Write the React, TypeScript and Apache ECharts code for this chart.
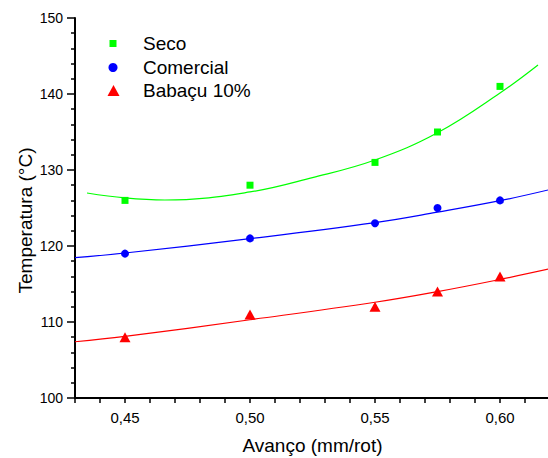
import React, { useEffect, useRef } from 'react';
import * as echarts from 'echarts';

// Measured points
const feedRates = [0.45, 0.5, 0.55, 0.575, 0.6];
const secoValues = [126, 128, 131, 135, 141];
const comercialValues = [119, 121, 123, 125, 126];
const babacuValues = [108, 111, 112, 114, 116];

// Fitted curves
const secoFitX = [0.4348, 0.45, 0.466, 0.5, 0.525, 0.55, 0.575, 0.6, 0.6152];
const secoFitY = [126.97, 126.32, 126.05, 127.11, 129.0, 131.32, 134.9, 140.13, 143.82];
const comercialFitX = [0.43, 0.45, 0.5, 0.55, 0.575, 0.6, 0.62];
const comercialFitY = [118.46, 119.08, 120.96, 123.07, 124.45, 125.96, 127.43];
const babacuFitX = [0.43, 0.45, 0.5, 0.55, 0.575, 0.6, 0.62];
const babacuFitY = [107.4, 108.1, 110.3, 112.6, 114.0, 115.6, 117.0];

// Axis labels shown on the x axis (ticks every 0.01)
const xLabelHundredths = [45, 50, 55, 60];

const FONT = '"Liberation Sans", Arial, Helvetica, sans-serif';

const pair = (xs: number[], ys: number[]) => xs.map((x, i) => [x, ys[i]]);

export default function App() {
  const ref = useRef<HTMLDivElement>(null);

  useEffect(() => {
    document.body.style.margin = '0';
    const chart = echarts.init(ref.current!, null, { renderer: 'svg' });
    const fmt = (v: number) => {
      const h = Math.round(v * 100);
      return xLabelHundredths.indexOf(h) >= 0 ? (h / 100).toFixed(2).replace('.', ',') : '';
    };

    chart.setOption({
      animation: false,
      grid: { left: 75, top: 18, width: 475, height: 380, outerBoundsMode: 'none' },
      xAxis: {
        type: 'value',
        min: 0.43,
        max: 0.62,
        interval: 0.01,
        axisLine: { show: true, lineStyle: { color: '#000000', width: 2 } },
        axisTick: { show: true, length: 5, lineStyle: { color: '#000000', width: 1.5 } },
        axisLabel: { show: true, formatter: fmt, margin: 12, fontSize: 15, color: '#000000', fontFamily: FONT, hideOverlap: false },
        splitLine: { show: false },
        name: 'Avanço (mm/rot)',
        nameLocation: 'middle',
        nameGap: 38,
        nameTextStyle: { fontSize: 19, color: '#000000', fontFamily: FONT },
      },
      yAxis: {
        type: 'value',
        min: 100,
        max: 150,
        interval: 10,
        axisLine: { show: true, lineStyle: { color: '#000000', width: 2 } },
        axisTick: { show: true, length: 8, lineStyle: { color: '#000000', width: 1.5 } },
        minorTick: { show: true, splitNumber: 5, length: 4, lineStyle: { color: '#000000', width: 1.5 } },
        axisLabel: { show: true, margin: 12, fontSize: 14, color: '#000000', fontFamily: FONT },
        splitLine: { show: false },
      },
      legend: [
        {
          left: 109.5, top: 34, padding: 0, itemWidth: 7, itemHeight: 7,
          selectedMode: false,
          textStyle: { fontSize: 19, color: '#000000', fontFamily: FONT, padding: [0, 0, 0, 21.5] },
          data: [{ name: 'Seco', icon: 'rect' }],
        },
        {
          left: 108.5, top: 58, padding: 0, itemWidth: 9, itemHeight: 9,
          selectedMode: false,
          textStyle: { fontSize: 19, color: '#000000', fontFamily: FONT, padding: [0, 0, 0, 20.5] },
          data: [{ name: 'Comercial', icon: 'circle' }],
        },
        {
          left: 107.5, top: 81, padding: 0, itemWidth: 12, itemHeight: 11,
          selectedMode: false,
          textStyle: { fontSize: 19, color: '#000000', fontFamily: FONT, padding: [0, 0, 0, 18.5] },
          data: [{ name: 'Babaçu 10%', icon: 'triangle' }],
        },
      ],
      graphic: [
        {
          type: 'text',
          x: 25,
          y: 220.5,
          rotation: Math.PI / 2,
          style: {
            text: 'Temperatura (°C)',
            fontSize: 19,
            fontFamily: FONT,
            fill: '#000000',
            align: 'center',
            verticalAlign: 'middle',
          },
        },
      ],
      series: [
        {
          name: 'Seco ajuste', type: 'line', data: pair(secoFitX, secoFitY), smooth: 0.4,
          showSymbol: false, lineStyle: { color: '#00ff00', width: 1.2 }, z: 1, silent: true,
        },
        {
          name: 'Comercial ajuste', type: 'line', data: pair(comercialFitX, comercialFitY), smooth: 0.4,
          showSymbol: false, lineStyle: { color: '#0000ff', width: 1.2 }, z: 1, silent: true,
        },
        {
          name: 'Babaçu ajuste', type: 'line', data: pair(babacuFitX, babacuFitY), smooth: 0.4,
          showSymbol: false, lineStyle: { color: '#ff0000', width: 1.2 }, z: 1, silent: true,
        },
        {
          name: 'Seco', type: 'scatter', symbol: 'rect', symbolSize: 7,
          data: pair(feedRates, secoValues), itemStyle: { color: '#00ff00', opacity: 1 }, z: 3,
        },
        {
          name: 'Comercial', type: 'scatter', symbol: 'circle', symbolSize: 8,
          data: pair(feedRates, comercialValues), itemStyle: { color: '#0000ff', opacity: 1 }, z: 3,
        },
        {
          name: 'Babaçu 10%', type: 'scatter', symbol: 'triangle', symbolSize: [11, 10],
          data: pair(feedRates, babacuValues), itemStyle: { color: '#ff0000', opacity: 1 }, z: 3,
        },
      ],
    });

    return () => chart.dispose();
  }, []);

  return (
    <div
      ref={ref}
      style={{ position: 'absolute', left: 0, top: 0, width: 548, height: 458, overflow: 'hidden', background: '#fff' }}
    />
  );
}
